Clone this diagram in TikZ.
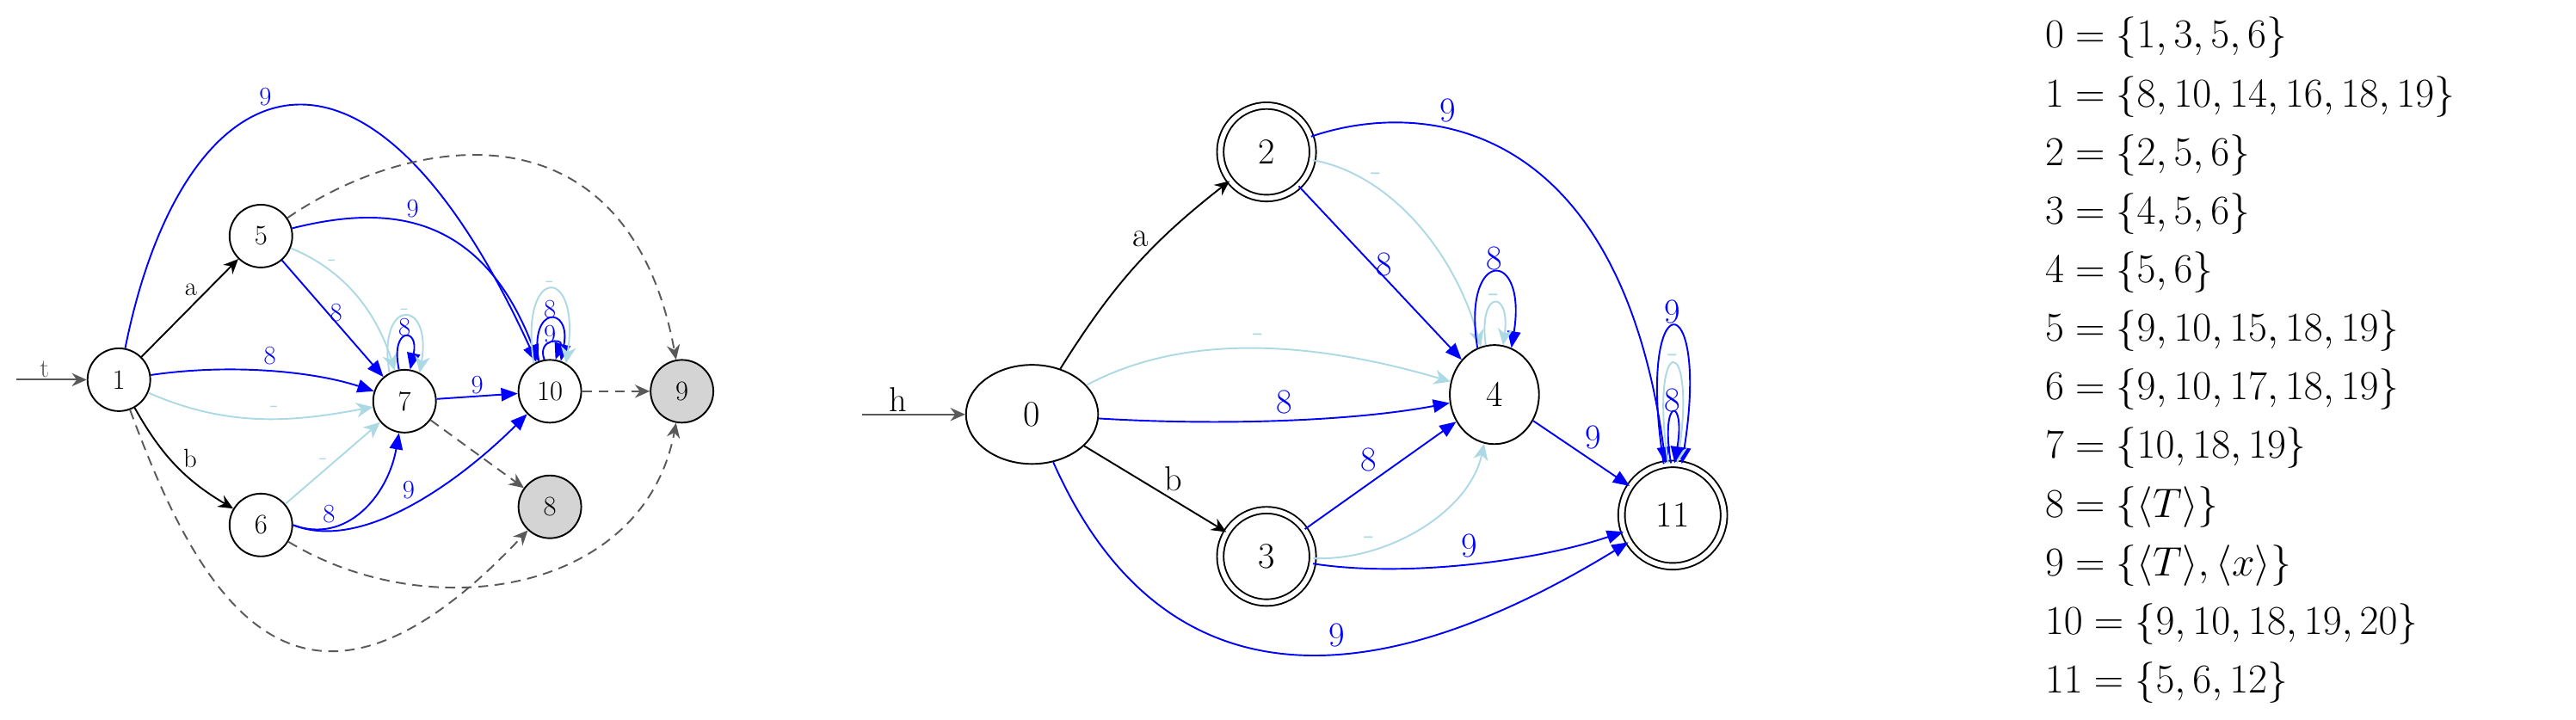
\documentclass[tikz,border=0pt]{standalone}
\usepackage{amsmath}
\usetikzlibrary{arrows.meta,shapes.geometric}
\definecolor{eblue}{rgb}{0,0,1}
\definecolor{lblue}{rgb}{0.68,0.85,0.90}
\definecolor{dgray}{rgb}{0.35,0.35,0.35}
\definecolor{fgray}{rgb}{0.83,0.83,0.83}
\begin{document}
\begin{tikzpicture}[x=1pt,y=-1pt,line width=1pt,
  st/.style={circle,draw,minimum size=38pt,inner sep=0pt,font=\fontsize{17}{17}\selectfont},
  sg/.style={st,fill=fgray},
  mst/.style={circle,draw,minimum size=54pt,inner sep=0pt,font=\fontsize{22}{22}\selectfont},
  mdb/.style={mst,double,double distance=3pt,minimum size=56pt},
  bk/.style={draw=black,-{Stealth[inset=3pt,length=9pt,width=8pt]}},
  gy/.style={draw=dgray,-{Stealth[inset=3pt,length=9pt,width=8pt]}},
  gd/.style={gy,dashed,dash pattern=on 6pt off 4pt},
  bl/.style={draw=eblue,-{Triangle[length=10pt,width=8pt]}},
  lb/.style={draw=lblue,-{Stealth[inset=3pt,length=10pt,width=9pt]}},
  lab/.style={font=\fontsize{16}{16}\selectfont},
  blab/.style={lab,text=eblue},
  llab/.style={lab,text=lblue},
  mlab/.style={font=\fontsize{21}{21}\selectfont},
  mblab/.style={mlab,text=eblue},
  mllab/.style={mlab,text=lblue}]
\useasboundingbox (0,0) rectangle (1560,436);
% ---------- left graph
\coordinate (ts) at (10,230);
\node[st] (n1) at (72,230) {1};
\node[st] (n5) at (158,143) {5};
\node[st] (n6) at (158,318) {6};
\node[st] (n7) at (245,243) {7};
\node[st] (n10) at (333,237) {10};
\node[sg] (n9) at (413,237) {9};
\node[sg] (n8) at (333,307) {8};
\draw[gy] (ts) -- node[above,lab,text=dgray,pos=0.4,inner sep=1pt]{t} (n1);
\draw[bk] (n1) -- node[above left,lab,inner sep=1pt,pos=0.6]{a} (n5);
\draw[bk] (n1) to[bend right=15] node[above right,lab,inner sep=1pt,pos=0.55]{b} (n6);
\draw[bl] (n1) .. controls (110,40) and (220,-10) .. node[above,blab,pos=0.45]{9} (n10);
\draw[bl] (n5) .. controls (230,125) and (290,125) .. node[above,blab,pos=0.45]{9} (n10);
\draw[lb] (n5) .. controls (200,160) and (225,180) .. node[above,llab,pos=0.35]{-} (n7);
\draw[bl] (n5) -- node[right,blab,pos=0.45,inner sep=1pt]{8} (n7);
\draw[bl] (n1) .. controls (140,220) and (190,225) .. node[above,blab,pos=0.5]{8} (n7);
\draw[lb] (n1) .. controls (140,260) and (180,255) .. node[above,llab,pos=0.55]{-} (n7);
\draw[lb] (n6) -- node[above,llab,pos=0.4]{-} (n7);
\draw[bl] (n6.east) .. controls (210,330) and (235,300) .. node[above left,blab,pos=0.3,inner sep=1pt]{8} (n7);
\draw[bl] (n6.east) .. controls (220,335) and (280,290) .. node[above left,blab,pos=0.52,inner sep=1pt]{9} (n10);
\draw[bl] (n7) -- node[above,blab,inner sep=1pt]{9} (n10);
\draw[bl] (n7.100) .. controls (236,198) and (254,198) .. node[above,blab,inner sep=0pt,pos=0.5]{8} (n7.80);
\draw[lb] (n7.118) .. controls (228,180) and (262,180) .. node[above,llab,inner sep=0pt,pos=0.5]{-} (n7.62);
\draw[bl] (n10.100) .. controls (325,205) and (341,205) .. node[above,blab,inner sep=0pt,pos=0.5]{9} (n10.80);
\draw[bl] (n10.110) .. controls (320,185) and (346,185) .. node[above,blab,inner sep=0pt,pos=0.5]{8} (n10.70);
\draw[lb] (n10.120) .. controls (314,160) and (352,160) .. node[above,llab,inner sep=0pt,pos=0.5]{-} (n10.60);
\draw[gd] (n10) -- (n9);
\draw[gd] (n7) -- (n8);
\draw[gd] (n5) .. controls (250,80) and (380,60) .. (n9);
\draw[gd] (n1) .. controls (120,360) and (180,470) .. (n8);
\draw[gd] (n6) .. controls (260,380) and (390,360) .. (n9);
% ---------- middle graph
\coordinate (hs) at (522,251);
\node[mst,ellipse,minimum width=80pt,minimum height=60pt] (m0) at (625,251) {0};
\node[mdb] (m2) at (767,92) {2};
\node[mdb] (m3) at (767,337) {3};
\node[mst,ellipse,minimum width=54pt,minimum height=60pt] (m4) at (905,239) {4};
\node[mdb,minimum size=62pt] (m11) at (1013,312) {11};
\draw[gy] (hs) -- node[above,mlab,text=black,pos=0.35,inner sep=1pt]{h} (m0);
\draw[bk] (m0) to[bend left=10] node[above left,mlab,inner sep=1pt,pos=0.6]{a} (m2);
\draw[bk] (m0) -- node[above right,mlab,inner sep=1pt,pos=0.55]{b} (m3);
\draw[lb] (m0) .. controls (720,200) and (800,208) .. node[above,mllab,pos=0.5]{-} (m4);
\draw[bl] (m0) .. controls (740,258) and (820,255) .. node[above,mblab,pos=0.5]{8} (m4);
\draw[bl] (m2) -- node[right,mblab,pos=0.45,inner sep=2pt]{8} (m4);
\draw[lb] (m2) .. controls (840,105) and (880,150) .. node[above,mllab,pos=0.3]{-} (m4);
\draw[bl] (m2) .. controls (860,60) and (980,70) .. node[above,mblab,pos=0.35]{9} (m11);
\draw[bl] (m3) -- node[above left,mblab,pos=0.5,inner sep=2pt]{8} (m4);
\draw[lb] (m3) .. controls (840,340) and (890,310) .. node[above,mllab,pos=0.25]{-} (m4);
\draw[bl] (m3) .. controls (850,350) and (930,340) .. node[above,mblab,pos=0.5]{9} (m11);
\draw[bl] (m4) -- node[above right,mblab,pos=0.5,inner sep=2pt]{9} (m11);
\draw[bl] (m0) .. controls (700,420) and (820,430) .. node[above,mblab,pos=0.6]{9} (m11);
\draw[bl] (m4.110) .. controls (885,150) and (925,150) .. node[above,mblab,inner sep=1pt,pos=0.5]{8} (m4.70);
\draw[lb] (m4.100) .. controls (895,175) and (915,175) .. node[above,mllab,inner sep=0pt,pos=0.5]{-} (m4.80);
\draw[bl] (m11.100) .. controls (990,170) and (1036,170) .. node[above,mblab,inner sep=1pt,pos=0.5]{9} (m11.80);
\draw[lb] (m11.95) .. controls (998,200) and (1028,200) .. node[above,mllab,inner sep=0pt,pos=0.5]{-} (m11.85);
\draw[bl] (m11.92) .. controls (1005,240) and (1021,240) .. node[above,mblab,inner sep=0pt,pos=0.5]{8} (m11.88);
% ---------- list
\node[anchor=north west,inner sep=0pt,font=\fontsize{23}{35.5}\selectfont,align=left] (lst) at (1238,10) {%
$0=\{1,3,5,6\}$\\
$1=\{8,10,14,16,18,19\}$\\
$2=\{2,5,6\}$\\
$3=\{4,5,6\}$\\
$4=\{5,6\}$\\
$5=\{9,10,15,18,19\}$\\
$6=\{9,10,17,18,19\}$\\
$7=\{10,18,19\}$\\
$8=\{\langle T\rangle\}$\\
$9=\{\langle T\rangle,\langle x\rangle\}$\\
$10=\{9,10,18,19,20\}$\\
$11=\{5,6,12\}$};
\end{tikzpicture}
\end{document}
